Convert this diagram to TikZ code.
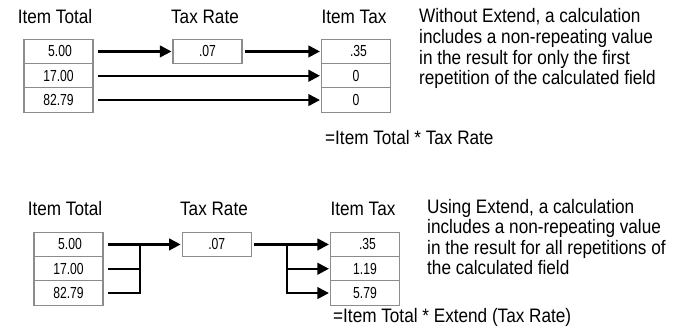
\documentclass[tikz,border=0pt]{standalone}
\usepackage{fontspec}
\setmainfont{Liberation Sans}[FakeStretch=0.88]
\newfontfamily\cellfamily{Liberation Sans}[FakeStretch=0.76]
\usetikzlibrary{arrows.meta}
\newcommand{\bigtxt}{\fontsize{19.5}{20.6}\selectfont}
\newcommand{\celltxt}{\cellfamily\fontsize{16}{17}\selectfont}
\tikzset{
  cell/.style={draw=black!45, line width=1.1pt, minimum width=69pt, minimum height=24.3pt, inner sep=0pt, font=\celltxt},
  hdr/.style={anchor=base, inner sep=0pt, font=\bigtxt},
  desc/.style={anchor=north west, inner sep=0pt, align=left, font=\bigtxt},
  formula/.style={anchor=base west, inner sep=0pt, font=\bigtxt},
  conn/.style={line width=2.4pt, line join=miter},
  arr/.style={conn, -{Triangle[length=11.5pt,width=11.5pt]}}
}
\begin{document}
\begin{tikzpicture}[x=1pt,y=-1pt]
\useasboundingbox (0,0) rectangle (682,333);
% ---------- Section 1: without Extend ----------
\node[hdr] (h1a) at (55,23.3) {Item Total};
\node[hdr] (h1b) at (205,23.3) {Tax Rate};
\node[hdr] (h1c) at (354,23.3) {Item Tax};
\node[cell] (a1) at (58.5,51.45) {\hspace{3pt}5.00};
\node[cell] (a2) at (58.5,75.75) {17.00};
\node[cell] (a3) at (58.5,100.05) {82.79};
\node[cell] (r1) at (207.5,51.45) {.07};
\node[cell] (t1) at (356,51.45) {\hspace{5pt}.35};
\node[cell] (t2) at (356,75.75) {0};
\node[cell] (t3) at (356,100.05) {0};
\draw[arr] ([xshift=4pt]a1.east) -- ([xshift=-1pt]r1.west);
\draw[arr] ([xshift=2pt]r1.east) -- ([xshift=-1pt]t1.west);
\draw[arr] ([xshift=4pt]a2.east) -- ([xshift=-1pt]t2.west);
\draw[arr] ([xshift=4pt]a3.east) -- ([xshift=-1pt]t3.west);
\node[formula] (f1) at (325,144) {=Item Total * Tax Rate};
\node[desc] (d1) at (419,8.5) {Without Extend, a calculation\\includes a non-repeating value\\in the result for only the first\\repetition of the calculated field};
% ---------- Section 2: using Extend ----------
\node[hdr] (h2a) at (65,215) {Item Total};
\node[hdr] (h2b) at (214,215) {Tax Rate};
\node[hdr] (h2c) at (363,215) {Item Tax};
\node[cell] (b1) at (68.5,244.45) {\hspace{3pt}5.00};
\node[cell] (b2) at (68.5,268.75) {17.00};
\node[cell] (b3) at (68.5,293.05) {82.79};
\node[cell] (s1) at (216.7,244.45) {.07};
\node[cell] (u1) at (365,244.45) {\hspace{5pt}.35};
\node[cell] (u2) at (365,268.75) {1.19};
\node[cell] (u3) at (365,293.05) {5.79};
\coordinate (busL) at (140,244.45);
\coordinate (busR) at (286.7,244.45);
\draw[arr] ([xshift=4pt]b1.east) -- ([xshift=-1pt]s1.west);
\draw[conn] ([xshift=4pt]b2.east) -- (busL |- b2);
\draw[conn] ([xshift=4pt]b3.east) -| (busL);
\draw[arr] ([xshift=2pt]s1.east) -- ([xshift=-1pt]u1.west);
\draw[arr] (busR) |- ([xshift=-1pt]u2.west);
\draw[arr] (busR) |- ([xshift=-1pt]u3.west);
\node[formula] (f2) at (333,322) {=Item Total * Extend (Tax Rate)};
\node[desc] (d2) at (427,198.8) {Using Extend, a calculation\\includes a non-repeating value\\in the result for all repetitions of\\the calculated field};
\end{tikzpicture}
\end{document}
